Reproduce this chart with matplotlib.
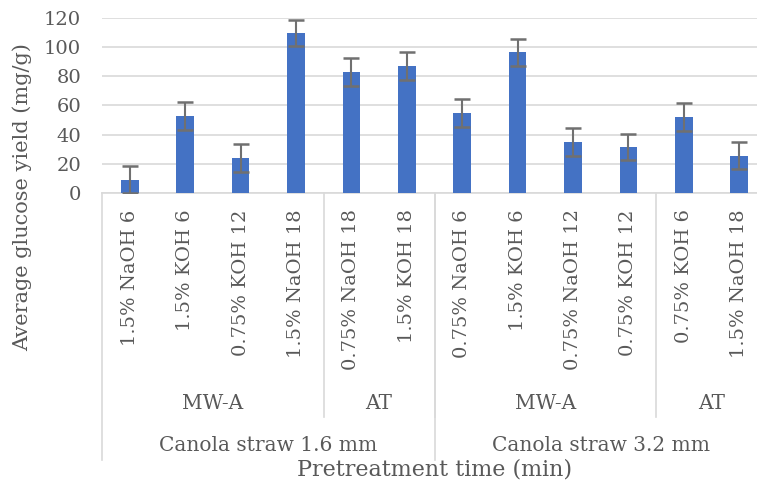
import numpy as np
import matplotlib.pyplot as plt

plt.rcParams['font.family'] = ['DejaVu Serif']

# treatment labels, one per bar
treatments = ["1.5% NaOH 6", "1.5% KOH 6", "0.75% KOH 12", "1.5% NaOH 18",
              "0.75% NaOH 18", "1.5% KOH 18",
              "0.75% NaOH 6", "1.5% KOH 6", "0.75% NaOH 12", "0.75% KOH 12",
              "0.75% KOH 6", "1.5% NaOH 18"]
glucose = [9, 53, 24, 110, 83, 87, 55, 96.5, 35, 31.5, 52, 25.5]
errors = [9.3, 9.7, 9.7, 9.1, 9.7, 9.7, 9.5, 9.4, 9.7, 9.2, 9.5, 9.4]

# grouping levels of the category axis
methods = ["MW-A", "AT", "MW-A", "AT"]
method_sizes = [4, 2, 4, 2]
straws = ["Canola straw 1.6 mm", "Canola straw 3.2 mm"]
straw_sizes = [6, 6]

txt = '#595959'
line_c = '#d9d9d9'

fig = plt.figure(figsize=(7.57, 4.90), dpi=100)
ax = fig.add_axes([102 / 757, 1 - 192.7 / 490, 665 / 757, 174.4 / 490])

x = np.arange(len(treatments))
ax.bar(x, glucose, width=0.32, color='#4472c4', zorder=3)
ax.errorbar(x, glucose, yerr=errors, fmt='none', ecolor='#707070',
            elinewidth=1.5, capsize=5.5, capthick=1.8, zorder=4)

ax.set_ylim(0, 120)
ax.set_xlim(-0.5, len(treatments) - 0.5)
ax.set_yticks(range(0, 121, 20))
ax.yaxis.grid(True, color=line_c, linewidth=1.2, zorder=0)
ax.tick_params(axis='y', length=0, labelsize=14, labelcolor=txt, pad=15)
for s in ['top', 'right', 'left']:
    ax.spines[s].set_visible(False)
ax.spines['bottom'].set_color(line_c)
ax.spines['bottom'].set_linewidth(1.2)

ax.set_xticks(x)
ax.set_xticklabels(treatments, rotation=90, fontsize=14, color=txt, va='top')
ax.tick_params(axis='x', length=0, pad=12)

tr = ax.get_xaxis_transform()

# separators and labels for the method level
start = 0
for name, n in zip(methods, method_sizes):
    ax.text(start + n / 2 - 0.5, -1.206, name, transform=tr, ha='center',
            va='center', fontsize=14.5, color=txt)
    start += n
    if start < len(treatments):
        ax.plot([start - 0.5] * 2, [0, -1.286], transform=tr, color=line_c,
                linewidth=1.2, clip_on=False)

# separators and labels for the straw level
ax.plot([-0.5] * 2, [0, -1.533], transform=tr, color=line_c, linewidth=1.2, clip_on=False)
start = 0
for name, n in zip(straws, straw_sizes):
    ax.text(start + n / 2 - 0.5, -1.447, name, transform=tr, ha='center',
            va='center', fontsize=14.5, color=txt)
    start += n
    ax.plot([start - 0.5] * 2, [0, -1.533], transform=tr, color=line_c,
            linewidth=1.2, clip_on=False)

ax.text(len(treatments) / 2 - 0.5, -1.585, "Pretreatment time (min)", transform=tr,
        ha='center', va='center', fontsize=16, color=txt)
fig.text(22 / 757, 1 - 197 / 490, "Average glucose yield (mg/g)", rotation=90,
         ha='center', va='center', fontsize=15, color=txt)

fig.savefig('out.png', dpi=100)
